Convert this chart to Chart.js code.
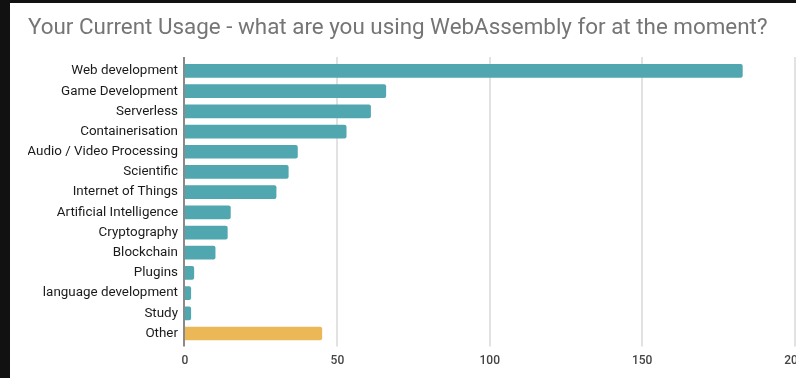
<!DOCTYPE html>
<html>
<head>
<meta charset="utf-8">
<script src="https://cdn.jsdelivr.net/npm/chart.js@4/dist/chart.umd.min.js"></script>
<style>
  html, body { margin: 0; padding: 0; background: #111111; overflow: hidden; width: 796px; height: 378px; }
  #wrap { position: absolute; left: 10px; top: 3px; width: 786px; height: 375px; background: #ffffff; overflow: hidden; }
  #c { display: block; }
</style>
</head>
<body>
<div id="wrap"><canvas id="c" width="830" height="375"></canvas></div>
<script>
const titleText = "Your Current Usage - what are you using WebAssembly for at the moment?";
const categories = [
  "Web development", "Game Development", "Serverless", "Containerisation",
  "Audio / Video Processing", "Scientific", "Internet of Things",
  "Artificial Intelligence", "Cryptography", "Blockchain", "Plugins",
  "language development", "Study", "Other"
];
const responses = [183, 66, 61, 53, 37, 34, 30, 15, 14, 10, 3, 2, 2, 45];
const xTicks = [0, 50, 100, 150, 200];

const TEAL = "#50a7af";
const AMBER = "#ecb857";

const gridPlugin = {
  id: "gridPlugin",
  beforeDatasetsDraw(chart) {
    const { ctx, chartArea, scales } = chart;
    const xs = scales.x;
    ctx.save();
    ctx.strokeStyle = "#e2e2e2";
    ctx.lineWidth = 2;
    xs.ticks.forEach(t => {
      if (t.value === 0) return;
      const px = Math.round(xs.getPixelForValue(t.value));
      ctx.beginPath();
      ctx.moveTo(px, chartArea.top - 4);
      ctx.lineTo(px, chartArea.bottom + 3);
      ctx.stroke();
    });
    ctx.restore();
  },
  afterDatasetsDraw(chart) {
    const { ctx, chartArea, scales } = chart;
    const px = Math.round(scales.x.getPixelForValue(0)) - 1;
    ctx.save();
    ctx.strokeStyle = "#8a8a8a";
    ctx.lineWidth = 2;
    ctx.beginPath();
    ctx.moveTo(px, chartArea.top - 4);
    ctx.lineTo(px, chartArea.bottom + 3);
    ctx.stroke();
    ctx.restore();
  }
};

new Chart(document.getElementById("c"), {
  type: "bar",
  data: {
    labels: categories,
    datasets: [{
      data: responses,
      backgroundColor: ctx => (categories[ctx.dataIndex] === "Other" ? AMBER : TEAL),
      borderWidth: 0,
      borderRadius: 2,
      barPercentage: 0.68,
      categoryPercentage: 1
    }]
  },
  options: {
    indexAxis: "y",
    responsive: false,
    animation: false,
    layout: { padding: { left: 18, right: 45.5, top: 0, bottom: 0 } },
    plugins: {
      legend: { display: false },
      tooltip: { enabled: false },
      title: {
        display: true,
        text: titleText,
        align: "start",
        color: "#757575",
        font: { family: "Roboto", size: 22.4, weight: "normal" },
        padding: { top: 12, bottom: 19 }
      }
    },
    scales: {
      x: {
        type: "linear",
        min: 0,
        max: 200,
        afterBuildTicks: scale => { scale.ticks = xTicks.map(v => ({ value: v })); },
        grid: { display: false, drawTicks: false },
        border: { display: false },
        ticks: {
          padding: 10,
          color: "#444444",
          font: { family: "Roboto", size: 12, weight: "500" }
        }
      },
      y: {
        grid: { display: false, drawTicks: false },
        border: { display: false },
        afterFit: scale => { scale.width = 157; },
        ticks: {
          padding: 7,
          color: "#1a1a1a",
          font: { family: "Roboto", size: 13.4 }
        }
      }
    }
  },
  plugins: [gridPlugin]
});
</script>
</body>
</html>
